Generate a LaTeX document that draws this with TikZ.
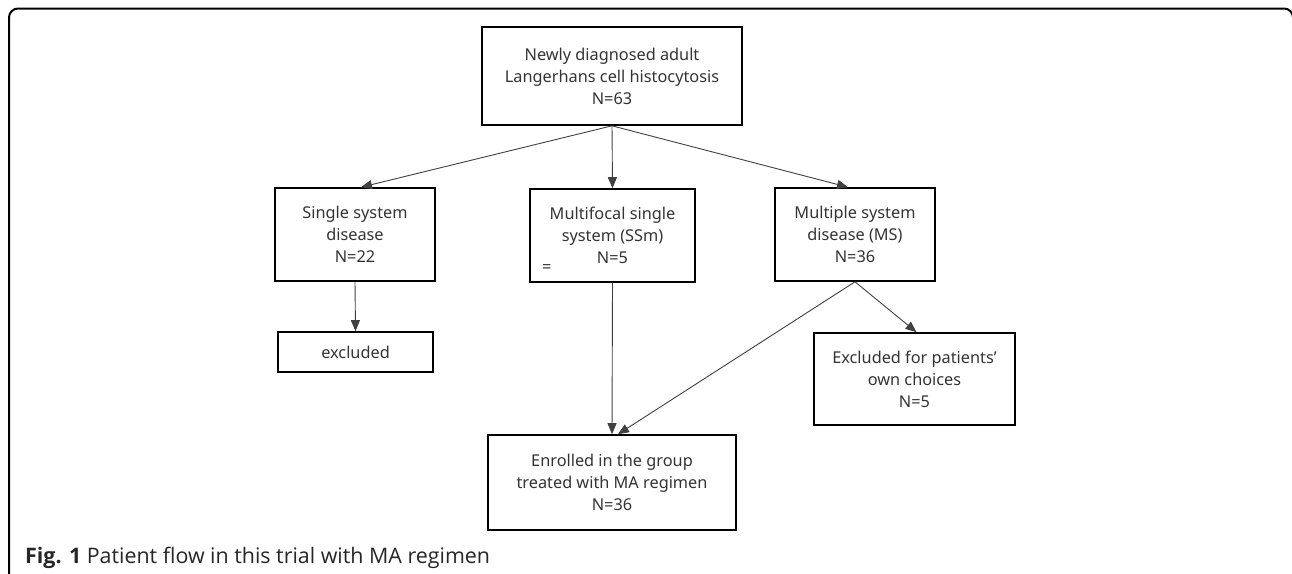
\documentclass[tikz,border=0pt]{standalone}
\usepackage{fontspec}
\setmainfont{Noto Sans}
\newfontfamily\capfont{Open Sans}
\usetikzlibrary{arrows.meta}
\begin{document}
\begin{tikzpicture}[x=1pt,y=-1pt,
box/.style={draw=black,line width=1.6pt,align=center,text=black!80,font=\fontsize{16.3}{22}\selectfont,inner sep=0pt},
arr/.style={draw=black!75,line width=0.9pt,-{Triangle[length=11pt,width=9pt]}}]
\useasboundingbox(0,0)rectangle(1292,573);
\draw[line width=2pt,rounded corners=9pt](9,590)--(9,8.5)--(1293,8.5)--(1293,590);
\node[box,minimum width=260,minimum height=98](top)at(612,76){Newly diagnosed adult\\Langerhans cell histocytosis\\N=63};
\node[box,minimum width=160,minimum height=93](ssd)at(355,234.5){Single system\\disease\\N=22};
\node[box,minimum width=165,minimum height=93](ssm)at(612.5,235.5){Multifocal single\\system (SSm)\\N=5};
\node[box,minimum width=160,minimum height=93](msd)at(855,234.5){Multiple system\\disease (MS)\\N=36};
\node[box,minimum width=155,minimum height=40](exc)at(355.5,352){excluded};
\node[box,minimum width=201,minimum height=92](own)at(914.5,379){Excluded for patients'\\own choices\\N=5};
\node[box,minimum width=248,minimum height=95](enr)at(612,482.5){Enrolled in the group\\treated with MA regimen\\N=36};
\node[text=black!80,font=\fontsize{16.3}{22}\selectfont,anchor=west,inner sep=0pt](eq)at(542,269){=};
\foreach \t/\s in{ssd/6,ssm/0,msd/-7}
\draw[arr](top.south)--([xshift=\s]\t.north);
\draw[arr](ssd.south)--(exc.north);
\draw[arr](ssm.south)--(enr.north);
\draw[arr](msd.south)--([xshift=2]own.north);
\draw[arr](msd.south)--([xshift=6]enr.north);
\node[anchor=base west,inner sep=0pt,text=black!85,font=\capfont\fontsize{21.4}{24}\selectfont](cap)at(25,563){\textbf{Fig. 1} Patient flow in this trial with MA regimen};
\end{tikzpicture}
\end{document}
